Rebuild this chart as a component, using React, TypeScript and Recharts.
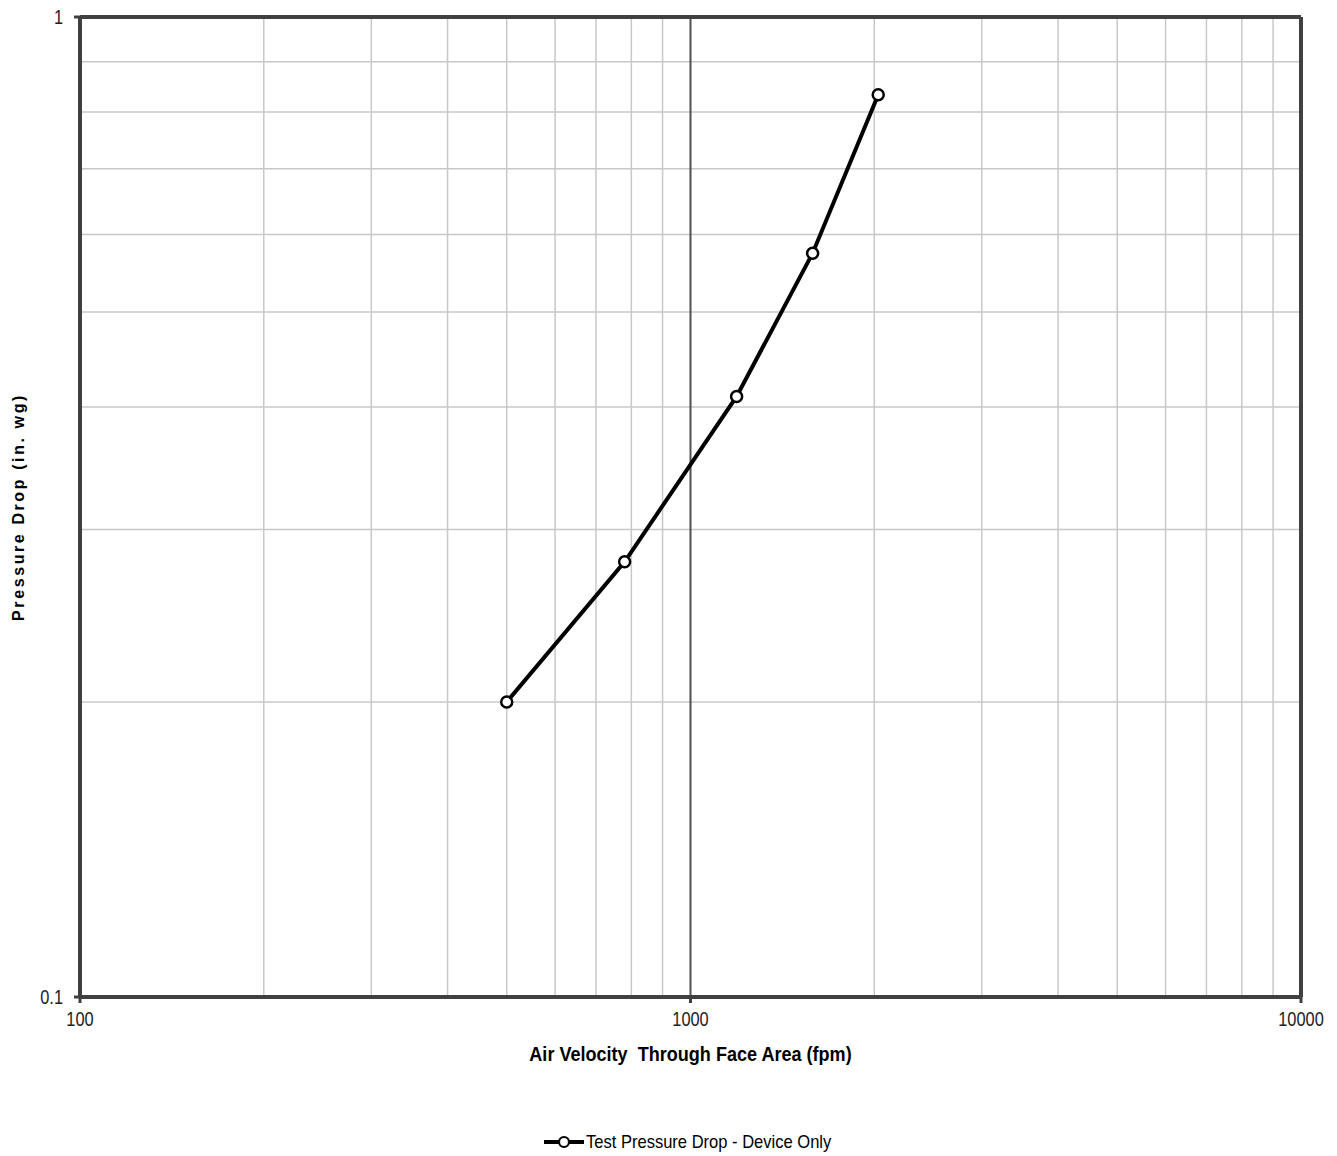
import React from "react";
import {
  ComposedChart,
  Line,
  XAxis,
  YAxis,
  ReferenceLine,
  Legend,
} from "recharts";

const velocities = [500, 780, 1190, 1585, 2030];
const pressureDrops = [0.2, 0.278, 0.41, 0.574, 0.833];
const xTicks = [100, 1000, 10000];
const yTicks = [0.1, 1];
const xMinorGrid = [200, 300, 400, 500, 600, 700, 800, 900, 2000, 3000, 4000, 5000, 6000, 7000, 8000, 9000];
const yMinorGrid = [0.2, 0.3, 0.4, 0.5, 0.6, 0.7, 0.8, 0.9];
const seriesName = "Test Pressure Drop - Device Only";
const xTitle = "Air Velocity  Through Face Area (fpm)";
const yTitle = "Pressure Drop (in. wg)";

const data = velocities.map((v, i) => ({ v, p: pressureDrops[i] }));

const FONT = "'Liberation Sans', Arial, sans-serif";
const AXIS = "#404040";
const GRID = "#c8c8c8";
const NARROW_SCALE = 0.82;

const XTick = (props: any) => {
  const { x, y, payload } = props;
  return (
    <g transform={`translate(${x},${y}) scale(${NARROW_SCALE},1)`}>
      <text x={0} y={0} dy={21} textAnchor="middle" fill="#222" fontSize={20} fontFamily={FONT}>
        {payload.value}
      </text>
    </g>
  );
};

const YTick = (props: any) => {
  const { x, y, payload } = props;
  return (
    <g transform={`translate(${x},${y}) scale(${NARROW_SCALE},1)`}>
      <text x={0} y={0} dy={7} textAnchor="end" fill="#222" fontSize={20} fontFamily={FONT}>
        {payload.value}
      </text>
    </g>
  );
};

function XTitleLabel(props: any) {
  const vb = props.viewBox || {};
  const cx = vb.x + vb.width / 2;
  const cy = vb.y + 64;
  return (
    <g transform={`translate(${cx},${cy}) scale(0.86,1)`}>
      <text x={0} y={0} textAnchor="middle" fill="#000" fontSize={21} fontWeight="bold" fontFamily={FONT}>
        {xTitle.replace("  ", "\u00a0 ")}
      </text>
    </g>
  );
}

const LegendContent = () => (
  <div style={{ position: "relative", width: 1321, height: 24 }}>
    <div
      style={{
        position: "absolute",
        left: 535,
        top: 0,
        height: 24,
        display: "flex",
        alignItems: "center",
        fontFamily: FONT,
        fontSize: 19,
        color: "#000",
        whiteSpace: "nowrap",
      }}
    >
      <svg width={42} height={24}>
        <line x1={1} y1={12} x2={41} y2={12} stroke="#000" strokeWidth={4} />
        <circle cx={21} cy={12} r={5} fill="#fff" stroke="#000" strokeWidth={2.2} />
      </svg>
      <span style={{ display: "inline-block", transform: "scaleX(0.87)", transformOrigin: "left center", marginLeft: 1 }}>
        {seriesName}
      </span>
    </div>
  </div>
);

export default function App() {
  return (
    <div style={{ marginTop: -8 }}>
      <ComposedChart
        width={1321}
        height={1156}
        data={data}
        margin={{ top: 17, right: 28, left: 0, bottom: 2 }}
      >
        <XAxis
          dataKey="v"
          type="number"
          scale="log"
          domain={[100, 10000]}
          ticks={xTicks}
          allowDataOverflow
          height={133}
          axisLine={false}
          tickLine={{ stroke: AXIS, strokeWidth: 3 }}
          tickSize={6}
          tickMargin={2}
          tick={<XTick />}
          label={<XTitleLabel />}
        />
        <YAxis
          type="number"
          scale="log"
          domain={[0.1, 1]}
          ticks={yTicks}
          allowDataOverflow
          width={72}
          axisLine={false}
          tickLine={{ stroke: AXIS, strokeWidth: 3 }}
          tickSize={6}
          tickMargin={11}
          tick={<YTick />}
          label={{
            value: yTitle,
            angle: -90,
            position: "insideLeft",
            offset: 10,
            style: {
              textAnchor: "middle",
              fontFamily: FONT,
              fontSize: 16,
              fontWeight: "bold",
              letterSpacing: 2.6,
              fill: "#000",
            },
          }}
        />
        {xMinorGrid.map((x) => (
          <ReferenceLine key={"gx" + x} x={x} stroke={GRID} strokeWidth={1.5} />
        ))}
        {yMinorGrid.map((y) => (
          <ReferenceLine key={"gy" + y} y={y} stroke={GRID} strokeWidth={1.5} />
        ))}
        <ReferenceLine x={1000} stroke="#505050" strokeWidth={2} />
        <ReferenceLine x={100} stroke={AXIS} strokeWidth={4} />
        <ReferenceLine x={10000} stroke={AXIS} strokeWidth={4} />
        <ReferenceLine y={0.1} stroke={AXIS} strokeWidth={4} />
        <ReferenceLine y={1} stroke={AXIS} strokeWidth={4} />
        <Line
          dataKey="p"
          name={seriesName}
          stroke="#000"
          strokeWidth={4}
          dot={{ r: 5.5, fill: "#fff", stroke: "#000", strokeWidth: 2.5 }}
          isAnimationActive={false}
        />
        <Legend
          verticalAlign="bottom"
          content={<LegendContent />}
          wrapperStyle={{ left: 0, width: 1321, height: 24 }}
        />
      </ComposedChart>
    </div>
  );
}
